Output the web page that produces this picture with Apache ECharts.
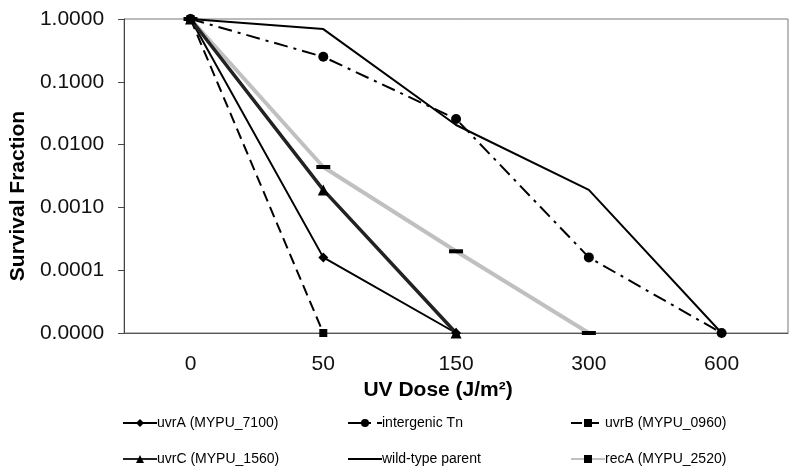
<!DOCTYPE html>
<html><head><meta charset="utf-8">
<script src="https://cdn.jsdelivr.net/npm/echarts@6/dist/echarts.min.js"></script>
<style>html,body{margin:0;padding:0;background:#fff}#c{width:800px;height:468px}</style>
</head><body><div id="c"></div>
<script>
const categories = ['0', '50', '150', '300', '600'];
const uvrA = [1, 0.00016, 0.00001, null, null];
const intergenic = [1, 0.25, 0.0256, 0.00016, 0.00001];
const uvrB = [1, 0.00001, null, null, null];
const uvrC = [1, 0.0019, 0.00001, null, null];
const wildType = [1, 0.69, 0.0205, 0.0019, 0.00001];
const recA = [1, 0.0044, 0.0002, 0.00001, null];
const seriesNames = ['uvrA (MYPU_7100)', 'intergenic Tn', 'uvrB (MYPU_0960)', 'uvrC (MYPU_1560)', 'wild-type parent', 'recA (MYPU_2520)'];

const font = 'Liberation Sans, Arial, sans-serif';
const chart = echarts.init(document.getElementById('c'), null, {renderer: 'canvas'});
function s(name, data, line, symbol, symbolSize, color, extra) {
  return Object.assign({
    name, type: 'line', data, symbol, symbolSize,
    showSymbol: symbol !== 'none',
    connectNulls: false,
    itemStyle: {color: color || '#000'},
    lineStyle: line,
    emphasis: {disabled: true},
    animation: false,
    z: 3
  }, extra || {});
}
function leg(left, top, item) {
  return {
    left, top, padding: 0, orient: 'horizontal', itemWidth: 34, itemHeight: 10,
    textStyle: {fontFamily: font, fontSize: 14, color: '#000', padding: [0, 0, 0, -5]},
    selectedMode: false, data: [item]
  };
}
chart.setOption({
  animation: false,
  grid: {left: 122, right: 12, top: 19, bottom: 135, show: true, borderColor: '#777', borderWidth: 1},
  xAxis: {
    type: 'category', data: categories, boundaryGap: true,
    axisLine: {show: true, lineStyle: {color: '#555'}},
    axisTick: {show: false},
    axisLabel: {fontFamily: font, fontSize: 21, color: '#111', margin: 21},
    name: 'UV Dose (J/m²)', nameLocation: 'middle', nameGap: 45,
    nameTextStyle: {fontFamily: font, fontSize: 21, fontWeight: 'bold', color: '#000', padding: [0, 36, 0, 0]}
  },
  yAxis: {
    type: 'log', logBase: 10, min: 0.00001, max: 1,
    axisLine: {show: true, lineStyle: {color: '#444'}},
    axisTick: {show: true, inside: false, length: 6, lineStyle: {color: '#444'}},
    splitLine: {show: false},
    minorTick: {show: false},
    axisLabel: {fontFamily: font, fontSize: 21, color: '#111', margin: 20, formatter: v => Number(v).toFixed(4)},
    name: 'Survival Fraction', nameLocation: 'middle', nameGap: 95, nameRotate: 90,
    nameTextStyle: {fontFamily: font, fontSize: 21, fontWeight: 'bold', color: '#000', padding: [0, 40, 0, 0]}
  },
  legend: [
    leg(122, 416, seriesNames[0]),
    leg(122, 452, seriesNames[3]),
    leg(347, 416, seriesNames[1]),
    leg(347, 452, {name: seriesNames[4], itemStyle: {opacity: 0}}),
    leg(570, 416, seriesNames[2]),
    leg(570, 452, seriesNames[5])
  ],
  series: [
    s(seriesNames[5], recA, {color: '#c0c0c0', width: 4}, 'rect', [14, 4], '#000'),
    s(seriesNames[0], uvrA, {color: '#000', width: 2}, 'diamond', 10),
    s(seriesNames[1], intergenic, {color: '#000', width: 2, type: [14, 6, 3, 6]}, 'circle', 10),
    s(seriesNames[2], uvrB, {color: '#000', width: 2, type: [11, 6]}, 'rect', 8),
    s(seriesNames[3], uvrC, {color: '#222', width: 3.5}, 'triangle', 11),
    s(seriesNames[4], wildType, {color: '#000', width: 2}, 'none', 0)
  ]
});
</script></body></html>
